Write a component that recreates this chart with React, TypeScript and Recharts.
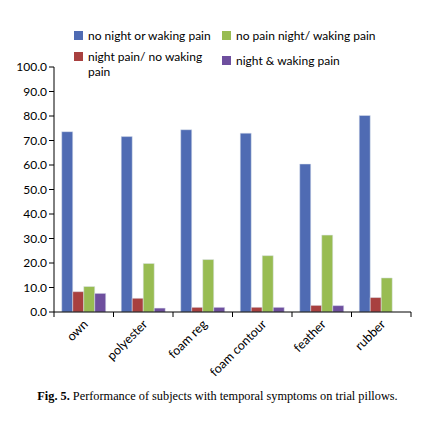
import { BarChart, Bar, XAxis, YAxis } from 'recharts';

const pillows = ['own', 'polyester', 'foam reg', 'foam contour', 'feather', 'rubber'];
const noPain = [73.6, 71.6, 74.4, 73.0, 60.4, 80.2];
const nightPain = [8.3, 5.6, 1.9, 1.9, 2.7, 5.9];
const wakingPain = [10.4, 19.8, 21.4, 23.0, 31.4, 13.9];
const bothPain = [7.6, 1.6, 1.9, 1.9, 2.6, 0];
const yTicks = [0, 10, 20, 30, 40, 50, 60, 70, 80, 90, 100];

const series = [
    { key: 'noPain', name: 'no night or waking pain', color: '#4F6BB3' },
    { key: 'nightPain', name: 'night pain/ no waking pain', color: '#A8403F' },
    { key: 'wakingPain', name: 'no pain night/ waking pain', color: '#98BC52' },
    { key: 'bothPain', name: 'night & waking pain', color: '#6E4F9E' },
];

const data = pillows.map((p, i) => ({
    label: p,
    noPain: noPain[i],
    nightPain: nightPain[i],
    wakingPain: wakingPain[i],
    bothPain: bothPain[i],
}));

const W = 435;
const H = 380;
const M = { top: 67, right: 24, left: 8, bottom: 10 };
const Y_W = 46;
const BAND = (W - M.left - M.right - Y_W) / pillows.length;

const font = 'Lato, "Liberation Sans", sans-serif';

function PillowTick(props: any) {
    const { x, y, payload, index } = props;
    const left = x - BAND / 2;
    return (
        <g>
            <line x1={left} y1={y - 8} x2={left} y2={y - 3} stroke="#000" strokeWidth={1} />
            {index === pillows.length - 1 && (
                <line x1={x + BAND / 2} y1={y - 8} x2={x + BAND / 2} y2={y - 3} stroke="#000" strokeWidth={1} />
            )}
            <text
                x={x + 5}
                y={y + 5}
                transform={`rotate(-45, ${x + 5}, ${y + 5})`}
                textAnchor="end"
                fontSize={12.5}
                fontFamily={font}
                fill="#000"
            >
                {payload.value}
            </text>
        </g>
    );
}

function LegendBox({ name, color, x, y }: { name: string; color: string; x: number; y: number }) {
    const lines = name === 'night pain/ no waking pain' ? ['night pain/ no waking', 'pain'] : [name];
    return (
        <div style={{ position: 'absolute', left: x, top: y, display: 'flex', alignItems: 'flex-start' }}>
            <div style={{ width: 9, height: 9, background: color, marginTop: 3, marginRight: 5 }} />
            <div style={{ fontFamily: font, fontSize: 12, lineHeight: '15px', color: '#000' }}>
                {lines.map((l) => (
                    <div key={l}>{l}</div>
                ))}
            </div>
        </div>
    );
}

export default function App() {
    const legendPos = [
        { x: 74, y: 28 },
        { x: 74, y: 49 },
        { x: 222, y: 28 },
        { x: 222, y: 53 },
    ];
    return (
        <div style={{ position: 'absolute', left: 0, top: 0, width: W, height: 437, background: '#fff' }}>
            <BarChart width={W} height={H} data={data} margin={M} barCategoryGap="13%" barGap={0}>
                <XAxis
                    dataKey="label"
                    tick={<PillowTick />}
                    tickLine={false}
                    axisLine={{ stroke: '#000' }}
                    interval={0}
                    height={58}
                />
                <YAxis
                    domain={[0, 100]}
                    ticks={yTicks}
                    tickFormatter={(v: number) => v.toFixed(1)}
                    width={Y_W}
                    axisLine={{ stroke: '#000' }}
                    tickLine={{ stroke: '#000' }}
                    tickSize={5}
                    tick={{ fontSize: 12, fill: '#000', fontFamily: font }}
                />
                {series.map((s) => (
                    <Bar
                        key={s.key}
                        dataKey={s.key}
                        name={s.name}
                        fill={s.color}
                        stroke="#dfe4ee"
                        strokeWidth={0.5}
                        isAnimationActive={false}
                    />
                ))}
            </BarChart>
            {series.map((s, i) => (
                <LegendBox key={s.key} name={s.name} color={s.color} x={legendPos[i].x} y={legendPos[i].y} />
            ))}
            <div
                style={{
                    position: 'absolute',
                    left: 0,
                    width: W,
                    top: 389,
                    textAlign: 'center',
                    fontFamily: '"Liberation Serif", serif',
                    fontSize: 12.3,
                    color: '#000',
                }}
            >
                <b>Fig. 5.</b> Performance of subjects with temporal symptoms on trial pillows.
            </div>
        </div>
    );
}
